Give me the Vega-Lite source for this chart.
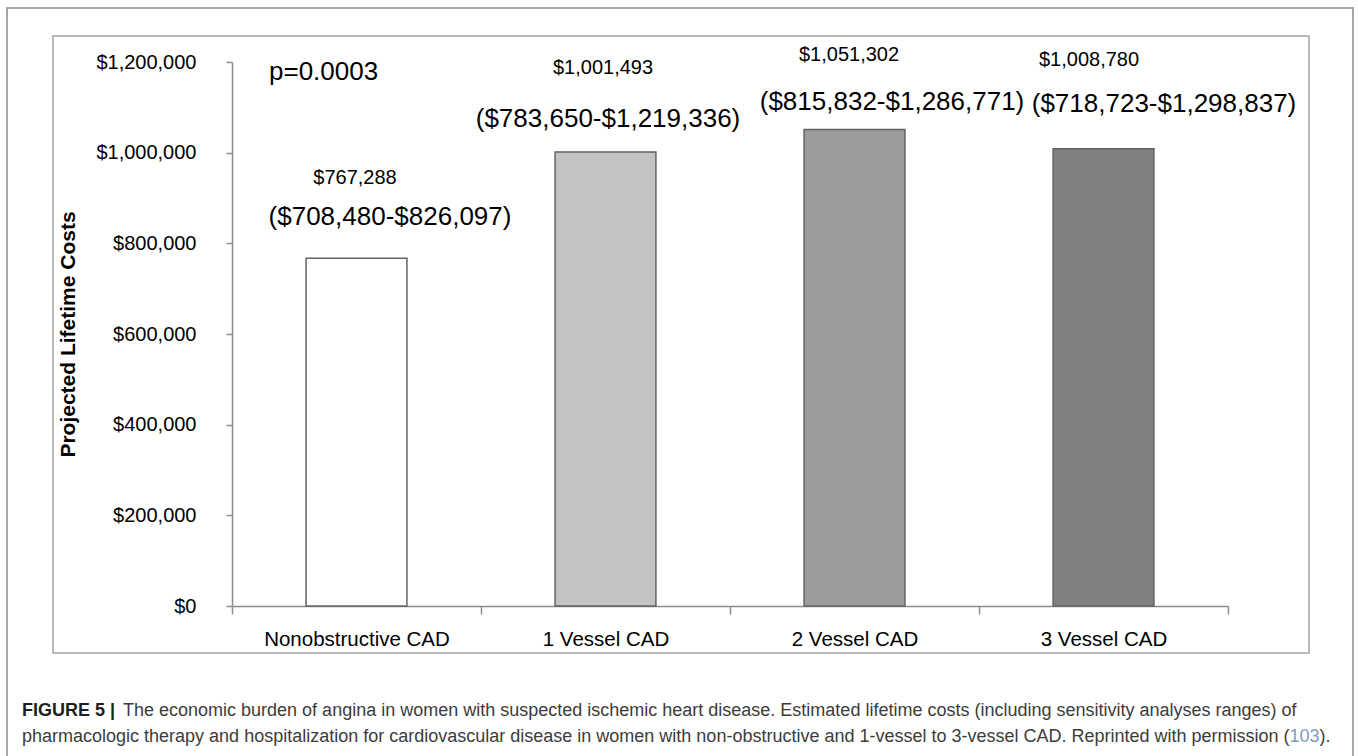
{
  "$schema": "https://vega.github.io/schema/vega-lite/v6.json",
  "width": 1256,
  "height": 617,
  "autosize": {"type": "none"},
  "padding": {"left": 53, "top": 36, "right": 49, "bottom": 103},
  "background": "white",
  "config": {
    "view": {"stroke": "#a3a3a3", "strokeWidth": 1.5},
    "font": "Liberation Sans",
    "text": {"font": "Liberation Sans", "color": "black"}
  },
  "datasets": {
    "costs": [
      {"category": "Nonobstructive CAD", "cost": 767288, "label": "$767,288", "range": "($708,480-$826,097)"},
      {"category": "1 Vessel CAD", "cost": 1001493, "label": "$1,001,493", "range": "($783,650-$1,219,336)"},
      {"category": "2 Vessel CAD", "cost": 1051302, "label": "$1,051,302", "range": "($815,832-$1,286,771)"},
      {"category": "3 Vessel CAD", "cost": 1008780, "label": "$1,008,780", "range": "($718,723-$1,298,837)"}
    ]
  },
  "layer": [
    {
      "data": {"values": [{}]},
      "layer": [
        {
          "mark": {"type": "rect", "fill": "transparent", "stroke": "#8a8a8a", "strokeWidth": 1.5, "clip": false},
          "encoding": {
            "x": {"datum": -46, "type": "quantitative", "scale": {"domain": [0, 1256], "range": [0, 1256], "nice": false, "zero": false}, "axis": null},
            "x2": {"datum": 1300},
            "y": {"datum": -28, "type": "quantitative", "scale": {"domain": [0, 617], "range": [0, 617], "nice": false, "zero": false}, "axis": null},
            "y2": {"datum": 730}
          }
        },
        {
          "mark": {"type": "text", "text": "FIGURE 5 |", "align": "left", "baseline": "middle", "fontSize": 18, "fontWeight": "bold", "color": "#1f1f1f"},
          "encoding": {
            "x": {"datum": -31, "type": "quantitative", "scale": {"domain": [0, 1256], "range": [0, 1256], "nice": false, "zero": false}, "axis": null},
            "y": {"datum": 675, "type": "quantitative", "scale": {"domain": [0, 617], "range": [0, 617], "nice": false, "zero": false}, "axis": null}
          }
        },
        {
          "mark": {"type": "text", "text": "The economic burden of angina in women with suspected ischemic heart disease. Estimated lifetime costs (including sensitivity analyses ranges) of", "align": "left", "baseline": "middle", "fontSize": 18, "color": "#3c3c3c"},
          "encoding": {
            "x": {"datum": 70, "type": "quantitative", "scale": {"domain": [0, 1256], "range": [0, 1256], "nice": false, "zero": false}, "axis": null},
            "y": {"datum": 675, "type": "quantitative", "scale": {"domain": [0, 617], "range": [0, 617], "nice": false, "zero": false}, "axis": null}
          }
        },
        {
          "mark": {"type": "text", "text": "pharmacologic therapy and hospitalization for cardiovascular disease in women with non-obstructive and 1-vessel to 3-vessel CAD. Reprinted with permission (", "align": "left", "baseline": "middle", "fontSize": 18, "color": "#3c3c3c"},
          "encoding": {
            "x": {"datum": -31, "type": "quantitative", "scale": {"domain": [0, 1256], "range": [0, 1256], "nice": false, "zero": false}, "axis": null},
            "y": {"datum": 701, "type": "quantitative", "scale": {"domain": [0, 617], "range": [0, 617], "nice": false, "zero": false}, "axis": null}
          }
        },
        {
          "mark": {"type": "text", "text": "103", "align": "left", "baseline": "middle", "fontSize": 18, "color": "#7d9cc0"},
          "encoding": {
            "x": {"datum": 1236.4, "type": "quantitative", "scale": {"domain": [0, 1256], "range": [0, 1256], "nice": false, "zero": false}, "axis": null},
            "y": {"datum": 701, "type": "quantitative", "scale": {"domain": [0, 617], "range": [0, 617], "nice": false, "zero": false}, "axis": null}
          }
        },
        {
          "mark": {"type": "text", "text": ").", "align": "left", "baseline": "middle", "fontSize": 18, "color": "#3c3c3c"},
          "encoding": {
            "x": {"datum": 1266.4, "type": "quantitative", "scale": {"domain": [0, 1256], "range": [0, 1256], "nice": false, "zero": false}, "axis": null},
            "y": {"datum": 701, "type": "quantitative", "scale": {"domain": [0, 617], "range": [0, 617], "nice": false, "zero": false}, "axis": null}
          }
        }
      ]
    },
    {
      "data": {"name": "costs"},
      "encoding": {
        "x": {
          "field": "category", "type": "nominal", "sort": null,
          "scale": {"range": [179, 1175], "paddingInner": 0, "paddingOuter": 0},
          "axis": {
            "title": null, "orient": "bottom", "offset": -47, "tickBand": "extent",
            "domainColor": "#8c8c8c", "domainWidth": 1.5, "tickColor": "#8c8c8c", "tickWidth": 1.5, "tickSize": 8,
            "labelFont": "Liberation Sans", "labelFontSize": 20.5, "labelColor": "black", "labelAngle": 0,
            "labelBaseline": "middle", "labelPadding": 25, "labelLimit": 400
          }
        },
        "y": {
          "field": "cost", "type": "quantitative",
          "scale": {"domain": [0, 1200000], "range": [570, 26], "nice": false, "zero": true},
          "axis": {
            "title": "Projected Lifetime Costs", "orient": "left", "offset": -179,
            "values": [0, 200000, 400000, 600000, 800000, 1000000, 1200000], "format": "$,.0f",
            "grid": false, "domainColor": "#8c8c8c", "domainWidth": 1.5, "tickColor": "#8c8c8c", "tickWidth": 1.5, "tickSize": 6,
            "labelFont": "Liberation Sans", "labelFontSize": 20, "labelColor": "black", "labelPadding": 30, "labelLimit": 400,
            "titleFont": "Liberation Sans", "titleFontSize": 21, "titleFontWeight": "bold", "titleColor": "black",
            "titleX": -164, "titleBaseline": "middle", "titleAngle": 270
          }
        }
      },
      "layer": [
        {
          "mark": {"type": "bar", "width": {"band": 0.405}, "stroke": "#636363", "strokeWidth": 1.5},
          "encoding": {
            "color": {
              "field": "category", "type": "nominal",
              "scale": {"domain": ["Nonobstructive CAD", "1 Vessel CAD", "2 Vessel CAD", "3 Vessel CAD"], "range": ["#ffffff", "#c3c3c3", "#9c9c9c", "#808080"]},
              "legend": null
            }
          }
        },
        {
          "transform": [{"filter": "datum.category === 'Nonobstructive CAD'"}],
          "mark": {"type": "text", "text": "p=0.0003", "align": "left", "baseline": "middle", "dx": -87.5, "dy": 10, "fontSize": 26},
          "encoding": {"y": {"datum": 1200000}}
        },
        {
          "transform": [{"filter": "datum.category === 'Nonobstructive CAD'"}],
          "mark": {"type": "text", "baseline": "middle", "dx": -1.5, "dy": -80, "fontSize": 20},
          "encoding": {"text": {"field": "label"}}
        },
        {
          "transform": [{"filter": "datum.category === 'Nonobstructive CAD'"}],
          "mark": {"type": "text", "baseline": "middle", "dx": 33.5, "dy": -41, "fontSize": 26},
          "encoding": {"text": {"field": "range"}}
        },
        {
          "transform": [{"filter": "datum.category === '1 Vessel CAD'"}],
          "mark": {"type": "text", "baseline": "middle", "dx": -2.5, "dy": -84, "fontSize": 20},
          "encoding": {"text": {"field": "label"}}
        },
        {
          "transform": [{"filter": "datum.category === '1 Vessel CAD'"}],
          "mark": {"type": "text", "baseline": "middle", "dx": 2.5, "dy": -33, "fontSize": 26},
          "encoding": {"text": {"field": "range"}}
        },
        {
          "transform": [{"filter": "datum.category === '2 Vessel CAD'"}],
          "mark": {"type": "text", "baseline": "middle", "dx": -5.5, "dy": -74, "fontSize": 20},
          "encoding": {"text": {"field": "label"}}
        },
        {
          "transform": [{"filter": "datum.category === '2 Vessel CAD'"}],
          "mark": {"type": "text", "baseline": "middle", "dx": 37.5, "dy": -27, "fontSize": 26},
          "encoding": {"text": {"field": "range"}}
        },
        {
          "transform": [{"filter": "datum.category === '3 Vessel CAD'"}],
          "mark": {"type": "text", "baseline": "middle", "dx": -14.5, "dy": -89, "fontSize": 20},
          "encoding": {"text": {"field": "label"}}
        },
        {
          "transform": [{"filter": "datum.category === '3 Vessel CAD'"}],
          "mark": {"type": "text", "baseline": "middle", "dx": 60.5, "dy": -45, "fontSize": 26},
          "encoding": {"text": {"field": "range"}}
        }
      ]
    }
  ],
  "resolve": {"scale": {"x": "independent", "y": "independent"}}
}
